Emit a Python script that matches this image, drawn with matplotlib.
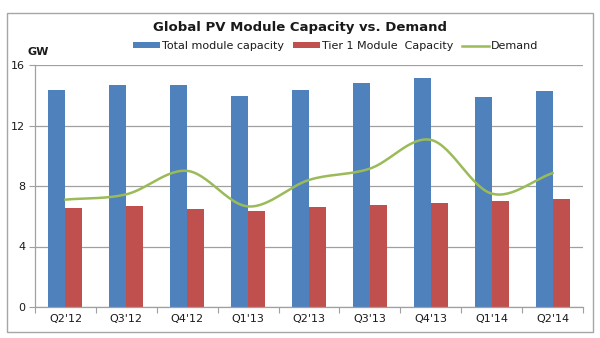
import numpy as np
import matplotlib
matplotlib.use("Agg")
import matplotlib.pyplot as plt
from matplotlib.patches import Rectangle

categories = ["Q2'12", "Q3'12", "Q4'12", "Q1'13", "Q2'13", "Q3'13", "Q4'13", "Q1'14", "Q2'14"]
total_capacity = [14.35, 14.65, 14.65, 13.95, 14.35, 14.8, 15.15, 13.9, 14.25]
tier1_capacity = [6.55, 6.65, 6.45, 6.35, 6.6, 6.75, 6.85, 7.0, 7.15]
demand = [7.1, 7.45, 9.0, 6.65, 8.4, 9.15, 11.05, 7.5, 8.85]
yticks = [0, 4, 8, 12, 16]

BLUE = "#4F81BD"
RED = "#C0504D"
GREEN = "#9BBB59"
TXT = "#1a1a1a"
GRID = "#a0a0a0"

def catmull_rom(xs, ys, n=30):
    xs = np.asarray(xs, float); ys = np.asarray(ys, float)
    px = np.concatenate([[2*xs[0]-xs[1]], xs, [2*xs[-1]-xs[-2]]])
    py = np.concatenate([[2*ys[0]-ys[1]], ys, [2*ys[-1]-ys[-2]]])
    ox, oy = [], []
    for i in range(1, len(px)-2):
        t = np.linspace(0, 1, n, endpoint=False)
        for arr, out in ((px, ox), (py, oy)):
            p0, p1, p2, p3 = arr[i-1], arr[i], arr[i+1], arr[i+2]
            out.extend(0.5*((2*p1) + (-p0+p2)*t + (2*p0-5*p1+4*p2-p3)*t**2 + (-p0+3*p1-3*p2+p3)*t**3))
    ox.append(xs[-1]); oy.append(ys[-1])
    return np.array(ox), np.array(oy)

fig = plt.figure(figsize=(6.0, 3.38), dpi=100)
fig.patch.set_facecolor("white")
fig.add_artist(Rectangle((7/600, 6/338), 586/600, 319/338, transform=fig.transFigure,
                         fill=False, edgecolor="#a6a6a6", linewidth=1.0))

ax = fig.add_axes([35/600, 31/338, 548/600, 242/338])
x = np.arange(len(categories))
w = 0.28
b1 = ax.bar(x - w/2, total_capacity, width=w, color=BLUE, label="Total module capacity", zorder=2)
b2 = ax.bar(x + w/2, tier1_capacity, width=w, color=RED, label="Tier 1 Module  Capacity", zorder=2)
sx, sy = catmull_rom(x, demand)
l1, = ax.plot(sx, sy, color=GREEN, linewidth=1.8, label="Demand", zorder=3)

ax.set_xlim(-0.5, len(categories) - 0.5)
ax.set_ylim(0, 16)
ax.set_yticks(yticks)
ax.set_yticklabels([str(v) for v in yticks], fontsize=8, color=TXT)
ax.yaxis.grid(True, color=GRID, linewidth=0.9, zorder=0)
ax.set_axisbelow(True)

ax.set_xticks(np.arange(len(categories) + 1) - 0.5)
ax.set_xticklabels([])
ax.set_xticks(x, minor=True)
ax.set_xticklabels(categories, minor=True, fontsize=8, color=TXT)
ax.tick_params(axis="x", which="major", length=4, color=GRID, direction="out")
ax.tick_params(axis="x", which="minor", length=0, pad=5)
ax.tick_params(axis="y", length=4, color=GRID, direction="out", pad=3)

for s in ["top", "right"]:
    ax.spines[s].set_visible(False)
for s in ["left", "bottom"]:
    ax.spines[s].set_color(GRID)
    ax.spines[s].set_linewidth(0.9)

fig.text(0.5, 1 - 28/338, "Global PV Module Capacity vs. Demand", ha="center", va="center",
         fontsize=9.5, fontweight="bold", color=TXT)
fig.text(27/600, 1 - 52/338, "GW", ha="left", va="center", fontsize=8, fontweight="bold", color=TXT)

leg = fig.legend(handles=[b1, b2, l1], loc="center", bbox_to_anchor=(336/600, 1 - 46/338), ncol=3,
                 frameon=False, fontsize=8, handlelength=2.4, handleheight=0.35, handletextpad=0.2,
                 columnspacing=0.8, borderaxespad=0)
for t in leg.get_texts():
    t.set_color(TXT)

fig.savefig("out.png", dpi=100, facecolor="white")
